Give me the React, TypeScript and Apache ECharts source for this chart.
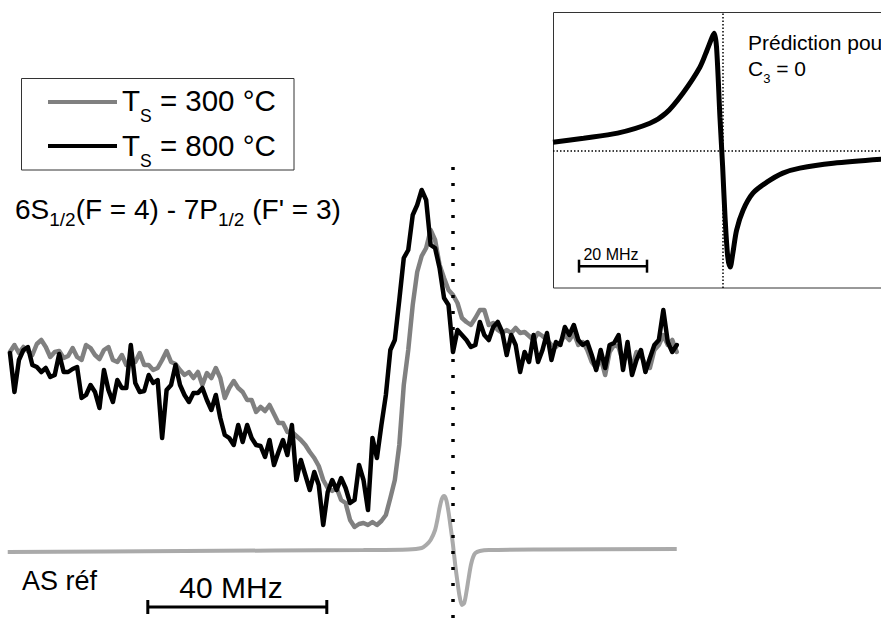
import React, { useEffect, useRef } from 'react';
import * as echarts from 'echarts';

const FONT = '"Liberation Sans", Arial, Helvetica, sans-serif';

// Detuning grid of the two measured spectra (MHz, 0 = resonance), 1 MHz step
const DETUNING_START = -99;
const NAME_300 = 'TS = 300 °C';
const NAME_800 = 'TS = 800 °C';
const COLOR_300 = '#808080';
const COLOR_800 = '#000000';

// Signal (arbitrary units), T_S = 300 °C (grey)
const signal300 = [
  208, 215, 207, 213, 209, 205, 216, 220, 213, 203,
  208, 209, 202, 204, 212, 203, 200, 215, 212, 205,
  201, 210, 213, 200, 198, 205, 195, 198, 198, 207,
  195, 195, 190, 192, 200, 209, 198, 196, 190, 185,
  188, 182, 188, 175, 187, 182, 192, 182, 162, 172,
  179, 172, 168, 160, 160, 148, 153, 149, 155, 146,
  137, 137, 128, 128, 124, 120, 115, 108, 102, 94,
  80, 72, 69, 72, 60, 57, 40, 33, 36, 37,
  35, 38, 35, 39, 45, 62, 80, 115, 175, 210,
  255, 288, 304, 312, 330, 320, 295, 282, 270, 265,
  257, 242, 238, 235, 242, 250, 250, 235, 237, 230,
  227, 230, 227, 232, 227, 228, 224, 220, 227, 224,
  220, 215, 213, 218, 225, 220, 227, 215, 218, 210,
  198, 192, 202, 185, 208, 215, 213, 198, 210, 192,
  208, 205, 195, 192, 210, 215, 225, 215, 220, 208,
];

// Signal (arbitrary units), T_S = 800 °C (black)
const signal800 = [
  207, 168, 200, 210, 213, 195, 193, 188, 192, 183,
  185, 206, 188, 188, 191, 193, 162, 165, 175, 168,
  152, 190, 170, 158, 180, 172, 172, 215, 177, 168,
  169, 185, 177, 180, 122, 170, 175, 195, 175, 165,
  158, 167, 167, 172, 160, 150, 165, 142, 125, 122,
  115, 135, 118, 135, 122, 115, 114, 103, 120, 95,
  108, 120, 105, 135, 80, 100, 85, 70, 88, 75,
  35, 68, 80, 70, 82, 72, 57, 60, 95, 80,
  50, 122, 102, 135, 165, 210, 220, 260, 302, 310,
  345, 355, 370, 360, 315, 312, 292, 262, 255, 208,
  230, 225, 220, 213, 215, 238, 225, 220, 233, 238,
  228, 205, 225, 215, 188, 208, 198, 225, 198, 210,
  227, 200, 218, 215, 233, 225, 235, 220, 215, 218,
  205, 190, 210, 192, 215, 217, 225, 190, 218, 185,
  200, 210, 188, 202, 215, 220, 250, 218, 208, 215,
];

// Reference saturated-absorption signal ("AS réf"): detuning (MHz), signal (a.u.)
const refDetuning = [-99.5, -60, -20, -10, -7, -6, -5, -4, -3.5, -3, -2.5, -2, -1.5, -1, -0.5, 0, 0.5, 1, 1.5, 2, 2.5, 3, 3.5, 4, 4.5, 5, 6, 8, 20, 50];
const refSignal = [8, 9, 10, 10.5, 12, 15, 20, 30, 40, 52, 61, 64, 60, 48, 32, 15, -5, -22, -37, -45, -43, -32, -18, -5, 3, 7, 9, 10, 10.5, 11];

// Inset: prediction for C3 = 0 (detuning MHz, normalised signal)
const predDetuning = [-50, -41, -31, -21.5, -16.8, -11.8, -6.8, -4.7, -3.2, -2.6, -1.9, -0.9, -0.1, 0.6, 1.4, 2.1, 2.9, 4.0, 5.9, 8.8, 12.9, 17.6, 22.6, 32.4, 46.5];
const predSignal = [0.076, 0.11, 0.153, 0.237, 0.322, 0.492, 0.712, 0.856, 0.966, 1.0, 0.881, 0.288, -0.136, -0.559, -0.898, -0.983, -0.864, -0.669, -0.5, -0.356, -0.263, -0.186, -0.144, -0.102, -0.068];

// Scale bars (MHz) and their levels
const mainBar = [-68.2, -28.2]; // 40 MHz
const mainBarLevel = -47;
const insetBar = [-42.35, -22.35]; // 20 MHz
const insetBarLevel = -0.975;

const pairs = (xs: number[], ys: number[]) => ys.map((y, i) => [xs[i], y]);
const gridPairs = (ys: number[]) => ys.map((y, i) => [DETUNING_START + i, y]);

export default function App() {
  const ref = useRef<HTMLDivElement>(null);

  useEffect(() => {
    document.body.style.margin = '0';
    if (!ref.current) return;
    const chart = echarts.init(ref.current, undefined, { renderer: 'svg' });

    const sub = (pad: number, size: number) => ({
      fontSize: size, lineHeight: 20, padding: [pad, 0, 0, 0], fontFamily: FONT, fill: '#000', color: '#000',
    });
    const norm = (size: number) => ({ fontSize: size, lineHeight: 30, fontFamily: FONT, fill: '#000', color: '#000' });

    const legendText = (name: string, y: number) => ({
      type: 'text', x: 122, y, z: 100, silent: true,
      style: {
        text: '{n|T}{s|S}{n|' + name.slice(2) + '}',
        verticalAlign: 'middle', fill: '#000', font: '29.5px ' + FONT,
        rich: { n: norm(29.5), s: sub(32, 17.5) },
      },
    });

    const option: any = {
      animation: false,
      backgroundColor: '#ffffff',
      textStyle: { fontFamily: FONT },
      grid: [
        { left: 5.5, top: 0, width: 671.25, height: 621 },
        { left: 553, top: 12, width: 328, height: 276 },
      ],
      xAxis: [
        { type: 'value', gridIndex: 0, min: -100, max: 50, show: false },
        { type: 'value', gridIndex: 1, min: -50, max: 46.47, show: false },
      ],
      yAxis: [
        { type: 'value', gridIndex: 0, min: -61, max: 560, show: false },
        { type: 'value', gridIndex: 1, min: -1.16, max: 1.18, show: false },
      ],
      series: [
        {
          name: NAME_300, type: 'line', xAxisIndex: 0, yAxisIndex: 0,
          data: gridPairs(signal300), symbol: 'none', silent: true,
          lineStyle: { color: COLOR_300, width: 4.5, join: 'round', cap: 'round' }, itemStyle: { color: COLOR_300 },
        },
        {
          name: NAME_800, type: 'line', xAxisIndex: 0, yAxisIndex: 0,
          data: gridPairs(signal800), symbol: 'none', silent: true,
          lineStyle: { color: COLOR_800, width: 4.5, join: 'round', cap: 'round' }, itemStyle: { color: COLOR_800 },
        },
        {
          name: 'AS réf', type: 'line', xAxisIndex: 0, yAxisIndex: 0,
          data: pairs(refDetuning, refSignal), symbol: 'none', silent: true, smooth: 0.3,
          lineStyle: { color: '#aaaaaa', width: 4 },
          markLine: {
            silent: true, symbol: ['none', 'none'], label: { show: false },
            lineStyle: { color: '#000', width: 3.5, type: [3, 13] },
            data: [[{ coord: [0, 393] }, { coord: [0, -61] }]],
          },
        },
        {
          name: 'bar40', type: 'line', xAxisIndex: 0, yAxisIndex: 0,
          data: mainBar.map((x) => [x, mainBarLevel]), symbol: 'rect', symbolSize: [3, 14], showSymbol: true, silent: true,
          lineStyle: { color: '#000', width: 3 }, itemStyle: { color: '#000' },
        },
        {
          name: 'Prédiction', type: 'line', xAxisIndex: 1, yAxisIndex: 1,
          data: pairs(predDetuning, predSignal), symbol: 'none', silent: true, smooth: 0.3,
          lineStyle: { color: '#000', width: 5 },
          markLine: {
            silent: true, symbol: ['none', 'none'], label: { show: false },
            lineStyle: { color: '#000', width: 1.5, type: [1.5, 2] },
            data: [{ xAxis: 0 }, { yAxis: 0 }],
          },
        },
        {
          name: 'bar20', type: 'line', xAxisIndex: 1, yAxisIndex: 1,
          data: insetBar.map((x) => [x, insetBarLevel]), symbol: 'rect', symbolSize: [2.5, 13], showSymbol: true, silent: true,
          lineStyle: { color: '#000', width: 2.5 }, itemStyle: { color: '#000' },
        },
      ],
      graphic: [
        // inset frame (its right side lies beyond the picture)
        {
          type: 'rect', z: 1, silent: true,
          shape: { x: 553.5, y: 12.5, width: 400, height: 275.5 },
          style: { fill: 'none', stroke: '#333', lineWidth: 1 },
        },
        // legend box
        {
          type: 'rect', z: 90, silent: true,
          shape: { x: 21.5, y: 78.5, width: 272.5, height: 91.5 },
          style: { fill: '#fff', stroke: '#333', lineWidth: 1 },
        },
        {
          type: 'line', z: 100, silent: true,
          shape: { x1: 48, y1: 102, x2: 117, y2: 102 },
          style: { stroke: COLOR_300, lineWidth: 4 },
        },
        {
          type: 'line', z: 100, silent: true,
          shape: { x1: 48, y1: 146, x2: 117, y2: 146 },
          style: { stroke: COLOR_800, lineWidth: 4 },
        },
        legendText(NAME_300, 100),
        legendText(NAME_800, 145),
        {
          type: 'text', x: 15, y: 209, z: 100, silent: true,
          style: {
            text: "{n|6S}{s|1/2}{n|(F = 4) - 7P}{s|1/2}{n| (F' = 3)}",
            verticalAlign: 'middle', fill: '#000', font: '28px ' + FONT,
            rich: { n: norm(28), s: sub(20, 19) },
          },
        },
        {
          type: 'text', x: 22, y: 581, z: 100, silent: true,
          style: { text: 'AS réf', fill: '#000', font: '27px ' + FONT, verticalAlign: 'middle' },
        },
        {
          type: 'text', x: 231, y: 587, z: 100, silent: true,
          style: { text: '40 MHz', fill: '#000', font: '30px ' + FONT, align: 'center', verticalAlign: 'middle' },
        },
        {
          type: 'text', x: 611, y: 254, z: 100, silent: true,
          style: { text: '20 MHz', fill: '#000', font: '16px ' + FONT, align: 'center', verticalAlign: 'middle' },
        },
        {
          type: 'text', x: 748, y: 42, z: 100, silent: true,
          style: { text: 'Prédiction pour', fill: '#000', font: '21px ' + FONT, verticalAlign: 'middle' },
        },
        {
          type: 'text', x: 748, y: 68, z: 100, silent: true,
          style: {
            text: '{n|C}{s|3}{n| = 0}', fill: '#000', font: '21px ' + FONT, verticalAlign: 'middle',
            rich: { n: { ...norm(21), lineHeight: 24 }, s: { ...sub(21, 13), lineHeight: 14 } },
          },
        },
      ],
    };

    chart.setOption(option);
    return () => chart.dispose();
  }, []);

  return <div ref={ref} style={{ width: 881, height: 621 }} />;
}
